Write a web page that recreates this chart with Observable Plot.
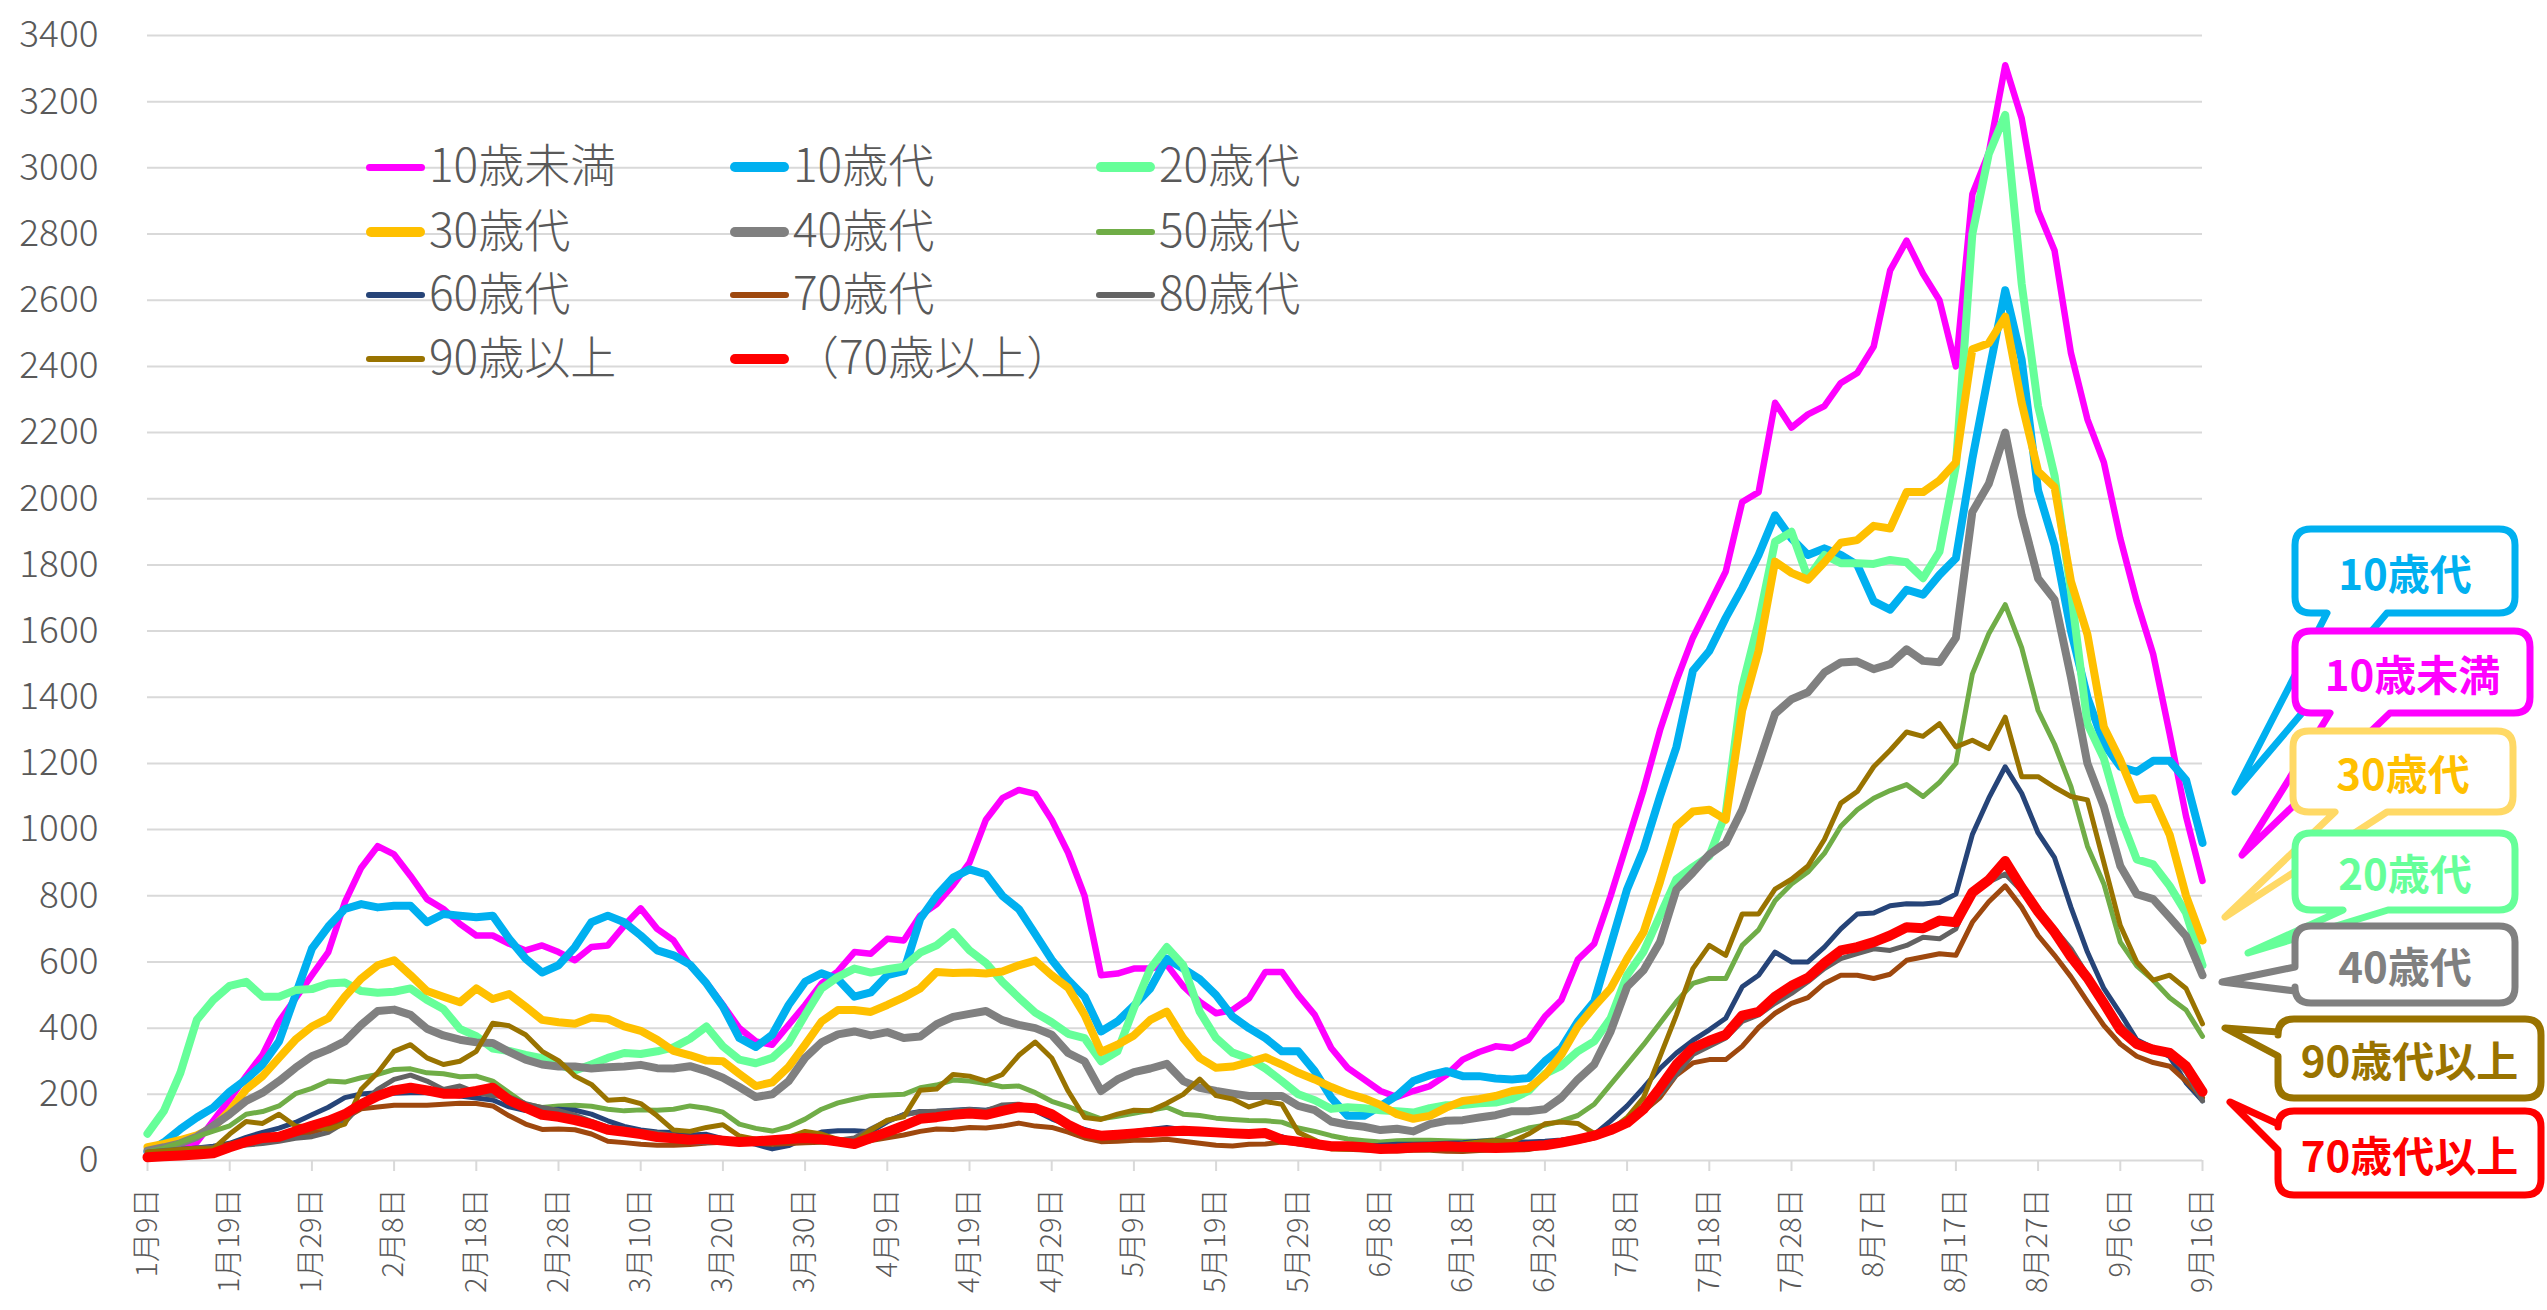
<!DOCTYPE html>
<html><head><meta charset="utf-8">
<script src="https://cdn.jsdelivr.net/npm/d3@7"></script>
<script src="https://cdn.jsdelivr.net/npm/@observablehq/plot@0.6"></script>
<style>
body{margin:0;background:#fff;}
#wrap{position:relative;width:2547px;height:1310px;overflow:hidden;font-family:"Noto Sans CJK JP","Noto Sans",sans-serif;}
.lg{position:absolute;display:flex;align-items:center;height:60px;color:#595959;font-size:46px;font-weight:300;white-space:nowrap;}
.lg span{position:relative;top:-5px;}
.sw{width:59px;border-radius:6px;margin-right:4px;}
</style></head><body><div id="wrap"></div>
<script>
// ---- data (every 2 days from 1月9日) ----
const startYear = 2022, startMonth = 0, startDay = 9, stepDays = 2;
const xTickLabels = ["1月9日","1月19日","1月29日","2月8日","2月18日","2月28日","3月10日","3月20日","3月30日","4月9日","4月19日","4月29日","5月9日","5月19日","5月29日","6月8日","6月18日","6月28日","7月8日","7月18日","7月28日","8月7日","8月17日","8月27日","9月6日","9月16日"];
const yTicks = [0,200,400,600,800,1000,1200,1400,1600,1800,2000,2200,2400,2600,2800,3000,3200,3400];
const seriesNames = ["10歳未満","10歳代","20歳代","30歳代","40歳代","50歳代","60歳代","70歳代","80歳代","90歳以上","（70歳以上）"];
const seriesColors = ["#FF00FF","#00B0F0","#66FF99","#FFC000","#808080","#70AD47","#264478","#9E480E","#636363","#997300","#FF0000"];

const valuesUnder10 = [
25,30,38,55,120,185,255,320,420,490,
560,630,780,885,950,925,860,790,760,715,
680,680,655,635,650,630,605,645,650,710,
762,700,665,590,537,470,400,360,350,410,
470,535,572,630,625,670,665,740,775,832,
900,1030,1095,1120,1108,1030,930,800,560,565,
580,580,592,527,480,445,455,490,570,570,
500,440,340,280,245,210,192,210,225,258,
305,328,345,340,365,435,485,607,655,800,
960,1120,1300,1450,1580,1680,1780,1990,2020,2290,
2215,2255,2280,2350,2380,2460,2690,2780,2680,2600,
2400,2920,3045,3310,3150,2870,2750,2440,2240,2110,
1880,1690,1530,1290,1040,845];
const values10s = [
26,55,95,130,160,208,245,290,360,500,
640,707,760,775,765,770,770,720,745,740,
735,740,670,610,568,590,645,720,740,720,
680,635,620,592,535,465,370,343,380,470,
540,566,548,495,508,560,572,730,800,855,
880,865,800,760,684,607,545,495,390,420,
468,520,610,580,548,500,435,400,370,330,
330,270,190,135,135,165,196,240,258,270,
255,255,248,245,249,300,340,420,480,650,
820,940,1100,1250,1480,1540,1640,1730,1830,1950,
1880,1830,1850,1830,1800,1690,1665,1725,1710,1770,
1820,2120,2380,2630,2420,2025,1860,1600,1400,1260,
1190,1175,1208,1208,1150,960];
const values20s = [
81,150,265,425,485,528,540,495,495,515,
518,535,538,512,507,510,520,485,458,398,
376,338,331,319,309,290,272,290,310,325,
322,330,342,368,405,345,305,294,310,355,
440,520,555,580,568,578,586,628,650,690,
635,597,540,492,447,418,383,370,300,330,
460,580,645,590,450,370,326,308,278,240,
200,182,156,161,158,152,149,145,158,167,
168,173,175,186,210,262,286,330,360,430,
560,631,740,850,887,920,1050,1430,1629,1870,
1900,1760,1830,1805,1805,1803,1815,1808,1760,1840,
2100,2800,3042,3160,2650,2280,2070,1720,1320,1215,
1040,910,895,830,748,590];
const values30s = [
40,50,62,76,100,150,215,255,310,365,
405,430,495,550,590,605,560,512,495,478,
520,488,503,465,425,418,413,432,428,405,
392,365,331,318,302,300,262,225,236,283,
350,420,455,455,449,470,493,520,570,567,
568,565,571,590,604,560,522,440,328,350,
378,425,450,370,310,280,284,297,312,290,
265,245,222,202,188,168,140,126,135,160,
180,186,195,210,217,258,320,405,465,520,
610,690,842,1010,1055,1060,1030,1360,1540,1810,
1776,1755,1808,1867,1875,1918,1910,2020,2020,2055,
2110,2452,2470,2550,2290,2083,2035,1750,1590,1310,
1210,1090,1095,985,800,665];
const values40s = [
30,40,52,72,105,140,180,205,240,280,
315,335,360,410,452,456,440,398,378,365,
357,355,328,305,290,284,284,278,282,284,
289,279,278,285,270,250,222,192,200,240,
310,357,381,390,378,388,370,375,412,434,
443,452,424,410,400,380,325,300,210,245,
267,278,292,240,220,210,202,195,195,195,
165,152,118,108,102,92,96,88,110,120,
122,130,137,149,149,155,190,245,290,390,
525,575,660,819,870,925,960,1060,1200,1350,
1394,1415,1475,1505,1508,1485,1500,1545,1510,1506,
1580,1960,2045,2200,1950,1759,1695,1460,1200,1070,
890,805,790,735,678,560];
const values50s = [
26,38,55,72,89,105,140,148,165,202,
218,240,237,250,260,275,277,265,262,253,
255,240,205,170,160,165,167,164,155,150,
153,152,155,165,158,146,110,97,89,102,
125,155,174,186,196,198,200,220,228,243,
240,233,223,225,205,179,163,144,126,134,
143,152,161,140,136,128,124,121,120,116,
98,88,75,65,60,56,60,61,61,60,
58,58,63,82,98,107,120,136,170,230,
290,350,415,480,535,550,550,650,697,785,
836,872,928,1010,1060,1095,1118,1136,1100,1143,
1200,1470,1592,1680,1550,1360,1258,1130,950,836,
660,588,545,492,455,375];
const values60s = [
20,26,33,38,43,52,70,85,98,115,
138,161,190,201,205,203,205,205,200,195,
189,183,162,151,153,155,152,140,120,103,
92,86,85,77,79,66,60,49,35,45,
68,86,90,90,87,117,139,148,149,152,
155,152,163,163,150,126,107,94,79,83,
87,94,100,93,88,85,80,83,78,72,
55,45,40,38,42,46,49,49,50,52,
54,58,60,57,56,58,62,68,78,120,
165,220,278,325,363,395,430,525,560,630,
600,600,645,700,745,748,770,776,775,780,
805,985,1095,1190,1110,990,915,765,630,520,
445,365,340,314,235,180];
const values70s = [
20,23,27,32,38,50,62,68,69,77,
85,100,128,156,162,167,167,167,170,173,
172,165,135,110,94,95,93,80,58,54,
49,46,46,48,53,55,54,52,49,51,
54,55,55,55,60,69,77,88,95,94,
100,98,104,113,104,100,86,68,57,58,
61,61,64,58,52,46,44,49,50,56,
51,43,37,34,32,30,29,31,31,28,
27,30,32,32,33,42,50,58,68,87,
114,149,190,258,295,305,305,345,402,445,
475,492,535,560,560,550,563,605,615,625,
620,720,782,830,765,680,620,555,480,408,
352,315,296,285,240,190];
const values80s = [
26,30,34,38,40,43,47,51,58,67,
72,85,115,170,215,245,258,240,215,225,
205,196,192,172,160,151,137,118,101,95,
88,83,76,55,54,58,60,57,55,58,
61,61,61,68,95,120,138,147,149,150,
154,150,168,170,157,132,105,86,70,75,
80,84,90,90,88,84,79,79,80,62,
50,46,43,41,39,38,39,40,40,40,
40,41,42,44,47,50,58,66,80,95,
115,150,200,260,320,345,370,420,440,475,
505,540,580,610,625,640,635,650,675,670,
700,815,842,866,815,750,700,640,560,480,
410,360,338,320,268,180];
const values90plus = [
26,29,33,36,35,80,118,112,140,104,
102,95,110,215,265,330,350,310,290,300,
330,415,407,380,330,302,255,230,182,185,
172,135,92,88,100,108,74,64,63,70,
88,80,64,56,92,122,132,212,216,260,
255,240,260,318,358,310,210,130,124,140,
152,150,173,200,246,196,186,162,178,170,
85,62,35,34,42,38,36,36,38,44,
50,56,60,57,80,111,116,112,82,92,
130,190,314,440,580,650,620,745,745,820,
850,890,970,1080,1115,1190,1240,1295,1282,1320,
1250,1270,1245,1340,1160,1160,1128,1100,1090,900,
710,600,545,560,520,413];
const values70plus = [
10,13,15,18,22,40,56,68,72,88,
105,120,140,170,195,212,220,212,202,202,
210,220,182,160,138,132,122,110,93,87,
80,71,67,63,65,60,56,58,61,65,
68,64,57,50,68,86,105,126,131,138,
142,138,150,161,158,140,108,84,75,78,
82,86,88,90,88,85,82,80,83,63,
57,50,43,43,40,35,36,39,41,43,
41,40,38,40,43,46,54,64,75,92,
114,155,220,290,340,362,380,438,449,495,
528,552,597,635,645,660,680,705,702,725,
720,810,848,905,825,752,690,615,552,475,
395,352,335,325,285,208];

const seriesValues = [valuesUnder10, values10s, values20s, values30s, values40s, values50s, values60s, values70s, values80s, values90plus, values70plus];
const seriesWidths = [6.5, 8, 8, 8, 8, 5, 5, 5, 5, 5, 10];

// ---- build table ----
const dayDate = n => new Date(Date.UTC(startYear, startMonth, startDay + n));
const table = seriesNames.map((name, s) => seriesValues[s].map((v, i) => ({series: name, date: dayDate(i * stepDays), value: v})));
const tickDates = xTickLabels.map((_, i) => dayDate(i * 10));
const labelByTime = new Map(tickDates.map((d, i) => [+d, xTickLabels[i]]));

const chart = Plot.plot({
  width: 2547, height: 1310,
  marginLeft: 147, marginRight: 345, marginTop: 35, marginBottom: 150,
  style: {fontFamily: '"Noto Sans CJK JP","Noto Sans",sans-serif', background: "white", overflow: "visible"},
  x: {type: "utc", domain: [tickDates[0], tickDates[tickDates.length - 1]]},
  y: {domain: [0, 3400]},
  marks: [
    Plot.gridY(yTicks, {stroke: "#d9d9d9", strokeOpacity: 1, strokeWidth: 2}),
    Plot.axisY(yTicks, {tickSize: 0, tickPadding: 49, fontSize: 37, fontWeight: 300, fill: "#595959", label: null, tickFormat: d => String(d)}),
    Plot.axisX(tickDates, {tickSize: 11, tickPadding: 17, tickRotate: -90, stroke: "#d9d9d9", strokeWidth: 2, fill: "#595959", fontSize: 29, fontWeight: 300, label: null, tickFormat: d => labelByTime.get(+d)}),
    ...table.map((rows, s) => Plot.line(rows, {x: "date", y: "value", stroke: seriesColors[s], strokeWidth: seriesWidths[s], strokeLinejoin: "round", strokeLinecap: "round"}))
  ]
});
const wrap = document.getElementById("wrap");
wrap.appendChild(chart);

// ---- legend (inside plot area) ----
const legendCols = [366, 730, 1096];
const legendRows = [167, 232, 295, 359];
const legendSwatch = [7, 10, 10, 10, 10, 6, 6, 6, 6, 6, 10];
seriesNames.forEach((name, i) => {
  const row = Math.floor(i / 3), col = i % 3;
  const el = document.createElement("div");
  el.className = "lg";
  el.style.left = legendCols[col] + "px";
  el.style.top = (legendRows[row] - 30) + "px";
  const sw = document.createElement("div");
  sw.className = "sw";
  sw.style.height = legendSwatch[i] + "px";
  sw.style.background = seriesColors[i];
  const tx = document.createElement("span");
  tx.textContent = name;
  el.appendChild(sw); el.appendChild(tx);
  wrap.appendChild(el);
});

// ---- callouts on the right ----
const callouts = [
  {label: "10歳代", stroke: "#00B0F0", text: "#00B0F0", box: [2295, 529, 220, 84], edge: "bottom", base: [2327, 2387], tip: [2235, 792]},
  {label: "10歳未満", stroke: "#FF00FF", text: "#FF00FF", box: [2295, 631, 235, 82], edge: "bottom", base: [2330, 2390], tip: [2242, 855]},
  {label: "30歳代", stroke: "#FFD966", text: "#FFC000", box: [2293, 731, 220, 81], edge: "bottom", base: [2335, 2387], tip: [2225, 917]},
  {label: "20歳代", stroke: "#66FF99", text: "#66FF99", box: [2295, 833, 220, 77], edge: "bottom", base: [2343, 2388], tip: [2248, 953]},
  {label: "40歳代", stroke: "#808080", text: "#808080", box: [2295, 926, 220, 77], edge: "left", base: [967, 991], tip: [2222, 982]},
  {label: "90歳代以上", stroke: "#997300", text: "#997300", box: [2278, 1019, 263, 79], edge: "left", base: [1032, 1056], tip: [2225, 1028]},
  {label: "70歳代以上", stroke: "#FF0000", text: "#FF0000", box: [2278, 1111, 263, 84], edge: "left", base: [1124, 1150], tip: [2230, 1102]}
];
function calloutPath(c, r = 16) {
  const [x, y, w, h] = c.box, [a, b] = c.base, [tx, ty] = c.tip;
  let p = `M${x + r},${y} H${x + w - r} Q${x + w},${y} ${x + w},${y + r} V${y + h - r} Q${x + w},${y + h} ${x + w - r},${y + h}`;
  if (c.edge === "bottom") p += ` H${b} L${tx},${ty} L${a},${y + h}`;
  p += ` H${x + r} Q${x},${y + h} ${x},${y + h - r}`;
  if (c.edge === "left") p += ` V${b} L${tx},${ty} L${x},${a}`;
  p += ` V${y + r} Q${x},${y} ${x + r},${y} Z`;
  return p;
}
const ov = d3.select(wrap).append("svg")
  .attr("width", 2547).attr("height", 1310)
  .style("position", "absolute").style("left", 0).style("top", 0);
callouts.forEach(c => {
  const g = ov.append("g");
  g.append("path").attr("d", calloutPath(c)).attr("fill", "white").attr("stroke", c.stroke).attr("stroke-width", 7).attr("stroke-linejoin", "round");
  g.append("text").attr("x", c.box[0] + c.box[2] / 2).attr("y", c.box[1] + c.box[3] / 2)
    .attr("text-anchor", "middle").attr("dominant-baseline", "central")
    .attr("fill", c.text).attr("font-size", 42).attr("font-weight", 700)
    .attr("font-family", '"Noto Sans CJK JP",sans-serif').text(c.label);
});
</script></body></html>
